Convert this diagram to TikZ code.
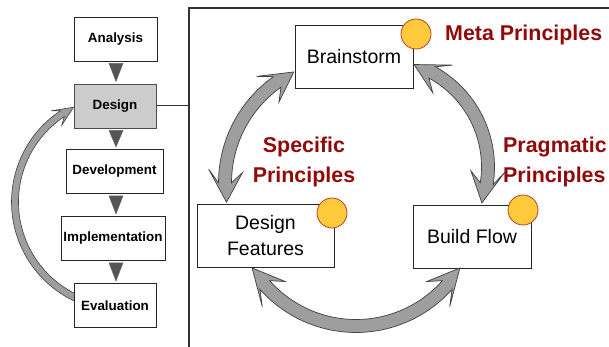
\documentclass[tikz,border=0pt]{standalone}
\usepackage{fontspec}
\setmainfont{Liberation Sans}
\usetikzlibrary{calc}

\definecolor{principle}{RGB}{145,10,10}
\definecolor{dotfill}{RGB}{255,201,60}
\definecolor{dotedge}{RGB}{176,67,42}
\definecolor{arrowgray}{RGB}{158,158,158}
\definecolor{tricolor}{RGB}{85,85,85}

\tikzset{
  phase/.style={draw=black!85, line width=0.9pt, fill=white, inner sep=0pt,
    minimum height=44pt, font=\bfseries\fontsize{13.4}{15}\selectfont},
  activephase/.style={phase, fill=black!20, draw=black!70},
  activity/.style={draw=black!85, line width=0.8pt, fill=white, inner sep=0pt,
    minimum height=63pt, align=center, font=\fontsize{19.5}{26}\selectfont},
  dot/.style={circle, draw=dotedge, line width=0.8pt, fill=dotfill,
    minimum size=30pt, inner sep=0pt},
  principlelabel/.style={text=principle, inner sep=0pt,
    font=\bfseries\fontsize{21.4}{30}\selectfont},
  blockarrow/.style={fill=arrowgray, draw=black!75, line width=0.7pt, line join=miter},
  flowtri/.style={fill=tricolor, draw=black!60, line width=0.4pt},
  frameline/.style={draw=black!80, line width=1.6pt},
}

% curved block arrow with a head at each end
% #1 centre, #2 radius, #3 half shaft width, #4 half head width,
% #5 first tip angle, #6 second tip angle, #7 head span, #8 notch span
\newcommand{\dblarcarrow}[8]{%
  \pgfmathsetmacro\arrDir{(#6>#5)?1:-1}%
  \pgfmathsetmacro\arrHa{#5+\arrDir*#7}\pgfmathsetmacro\arrNa{#5+\arrDir*#8}%
  \pgfmathsetmacro\arrHb{#6-\arrDir*#7}\pgfmathsetmacro\arrNb{#6-\arrDir*#8}%
  \pgfmathsetmacro\arrRo{#2+#3}\pgfmathsetmacro\arrRi{#2-#3}%
  \pgfmathsetmacro\arrBo{#2+#4}\pgfmathsetmacro\arrBi{#2-#4}%
  \filldraw[blockarrow] ($(#1)+(#5:#2)$) -- ($(#1)+(\arrHa:\arrBo)$)
    -- ($(#1)+(\arrNa:\arrRo)$)
    arc[start angle=\arrNa, end angle=\arrNb, radius=\arrRo]
    -- ($(#1)+(\arrHb:\arrBo)$) -- ($(#1)+(#6:#2)$) -- ($(#1)+(\arrHb:\arrBi)$)
    -- ($(#1)+(\arrNb:\arrRi)$)
    arc[start angle=\arrNb, end angle=\arrNa, radius=\arrRi]
    -- ($(#1)+(\arrHa:\arrBi)$) -- cycle;}

% small downward triangle between two stacked phases
\newcommand{\phasestep}[2]{%
  \path[flowtri] let \p1=(#1.south), \p2=(#2.north) in
    (109,\y1-2) -- (123,\y1-2) -- (116,\y2+2) -- cycle;}

\begin{document}
\begin{tikzpicture}[x=1pt, y=1pt]
\useasboundingbox (0,0) rectangle (609,347);
\fill[white] (0,0) rectangle (609,347);

% ---------- process column ----------
\coordinate (loopc) at (121,145);
% feedback arrow from Evaluation back to Design
\filldraw[blockarrow, line width=0.6pt]
  ($(loopc)+(116.6:106)$) -- ($(loopc)+(127.6:115)$) -- ($(loopc)+(123.6:109.5)$)
  arc[start angle=123.6, end angle=247, radius=109.5]
  -- ($(loopc)+(247:102.5)$)
  arc[start angle=247, end angle=123.6, radius=102.5]
  -- ($(loopc)+(127.6:97)$) -- cycle;

\node[phase, minimum width=83pt] (analysis) at (115.5,308) {Analysis};
\node[activephase, minimum width=82pt] (design) at (115,241) {Design};
\node[phase, minimum width=97pt] (development) at (114.5,175.5) {Development};
\node[phase, minimum width=104pt] (implementation) at (113,108.5) {Implementation};
\node[phase, minimum width=82pt] (evaluation) at (115,41.5) {Evaluation};

\phasestep{analysis}{design}
\phasestep{design}{development}
\phasestep{development}{implementation}
\phasestep{implementation}{evaluation}

% ---------- design detail frame ----------
\coordinate (frameleft) at (189,339);
\draw[frameline] (189,-5) -- (frameleft) -- (615,339);
\draw[draw=black!80, line width=1pt] (design.east) -- (design.east -| frameleft);

% activities
\node[activity, minimum width=118pt] (brainstorm) at (354,290.5) {Brainstorm};
\node[activity, minimum width=137pt] (features) at (265.5,111.5) {Design\\Features};
\node[activity, minimum width=118pt] (buildflow) at (472,110.5) {Build Flow};

% cycle arrows between the activities
\coordinate (leftc) at (349,164);
\coordinate (rightc) at (380,180);
\coordinate (bottomc) at (356,143);
\dblarcarrow{leftc}{124}{6.5}{17}{116.4}{188.9}{14.5}{9}
\dblarcarrow{rightc}{108}{6.5}{17}{71.6}{-19.4}{17}{10.5}
\dblarcarrow{bottomc}{122}{6.5}{17}{211.6}{328.4}{16}{10}

% principle markers
\node[dot] (metadot) at (416,313) {};
\node[dot] (specdot) at (332,134) {};
\node[dot] (pragdot) at (523,137) {};

\node[principlelabel, anchor=west] (meta) at (445,312) {Meta Principles};
\node[principlelabel, align=center] (specific) at (304,185) {Specific\\Principles};
\node[principlelabel, align=left, anchor=west] (pragmatic) at (503,185) {Pragmatic\\Principles};
\end{tikzpicture}
\end{document}
